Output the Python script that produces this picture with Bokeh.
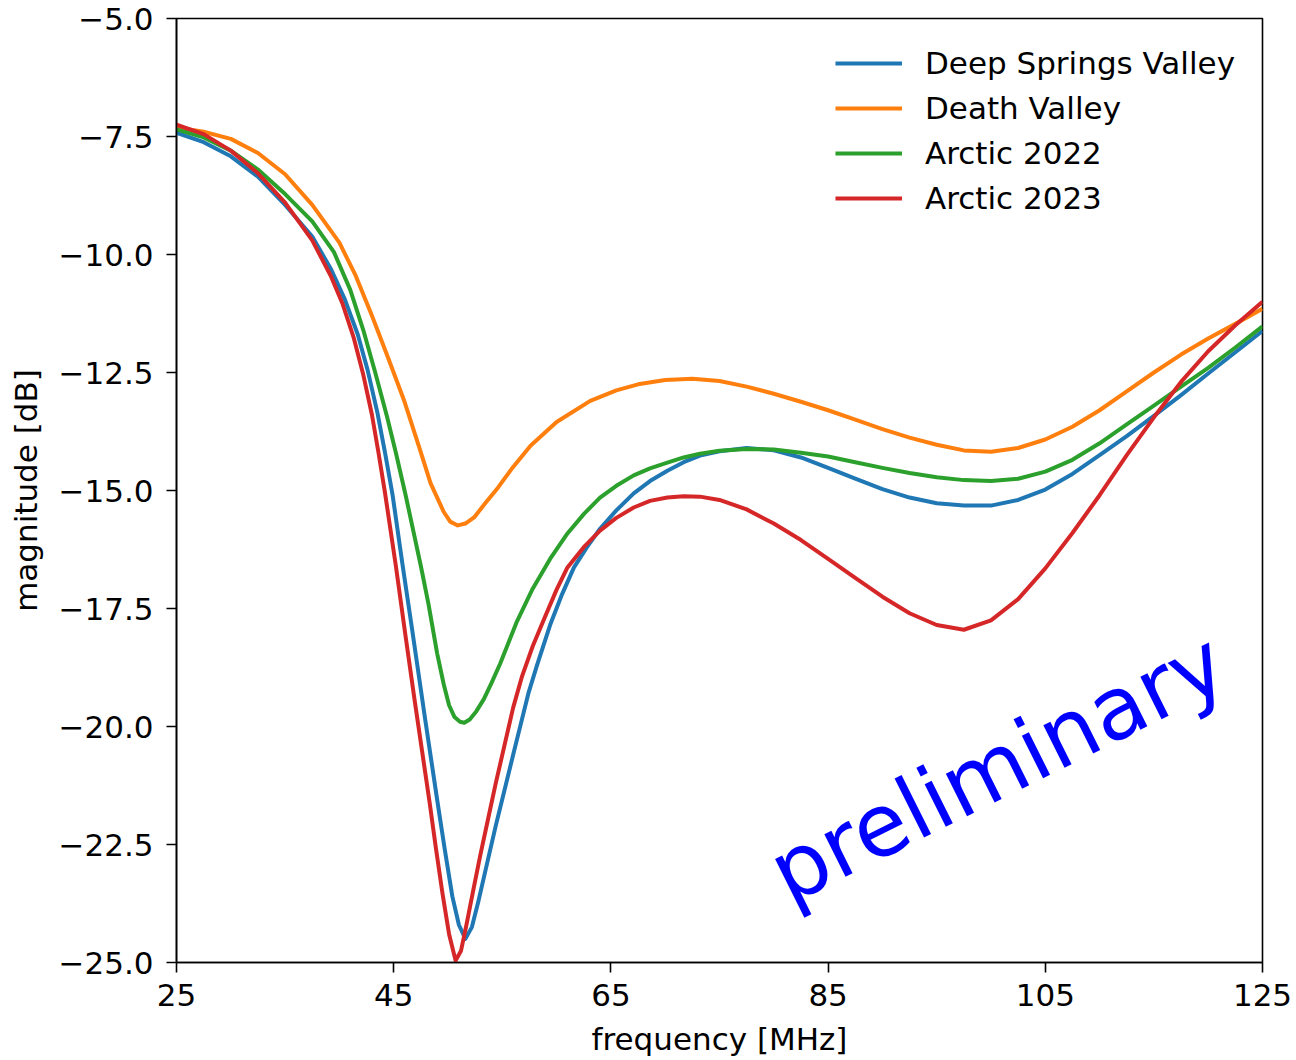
from bokeh.plotting import figure
from bokeh.models import Range1d, FixedTicker, CustomJSTickFormatter, Label, Legend, LegendItem
from bokeh.embed import file_html
from bokeh.resources import INLINE

# ---- data ----
deep_springs_freq = [25, 27.5, 30, 32.5, 35, 37.5, 39.2, 40.5, 41.7, 42.6, 43.5, 44.2, 44.9, 45.8, 46.7, 47.9,
                     49.0, 49.7, 50.4, 51.0, 51.6, 52.2, 52.8, 53.6, 54.4, 55.2, 56.0, 56.7, 57.4, 58.2, 59.4,
                     60.5, 61.6, 62.8, 64.0, 65.5, 67.1, 68.6, 70.2, 71.7, 73.2, 75, 77.5, 80, 82.5, 85, 87.5,
                     90, 92.5, 95, 97.5, 100, 102.5, 105, 107.5, 110, 112.5, 115, 117.5, 120, 122.5, 125]
deep_springs = [-7.42, -7.62, -7.92, -8.35, -8.95, -9.62, -10.3, -10.95, -11.7, -12.45, -13.35, -14.2, -15.1,
                -16.55, -17.95, -19.85, -21.55, -22.6, -23.6, -24.2, -24.5, -24.25, -23.7, -22.9, -22.1,
                -21.35, -20.6, -19.95, -19.3, -18.7, -17.85, -17.2, -16.63, -16.2, -15.81, -15.42, -15.06,
                -14.8, -14.58, -14.4, -14.26, -14.17, -14.1, -14.15, -14.3, -14.52, -14.75, -14.97, -15.15,
                -15.27, -15.32, -15.32, -15.2, -14.98, -14.65, -14.25, -13.85, -13.42, -12.98, -12.52,
                -12.07, -11.62]

death_valley_freq = [25, 27.5, 30, 32.5, 35, 37.5, 40, 41.5, 43, 44.5, 46, 47.3, 48.4, 49.6, 50.2, 50.9, 51.6,
                     52.4, 53.5, 54.6, 56, 57.6, 60, 63.1, 65.5, 67.5, 70, 72.5, 75, 77.5, 80, 82.5, 85, 87.5,
                     90, 92.5, 95, 97.5, 100, 102.5, 105, 107.5, 110, 112.5, 115, 117.5, 120, 122.5, 125]
death_valley = [-7.31, -7.4, -7.55, -7.85, -8.3, -8.95, -9.75, -10.45, -11.3, -12.2, -13.12, -14.05, -14.85,
                -15.45, -15.66, -15.74, -15.7, -15.57, -15.25, -14.94, -14.5, -14.05, -13.55, -13.1, -12.88,
                -12.75, -12.66, -12.63, -12.68, -12.8, -12.95, -13.12, -13.3, -13.5, -13.7, -13.88, -14.03,
                -14.15, -14.18, -14.1, -13.92, -13.65, -13.3, -12.9, -12.5, -12.12, -11.78, -11.47, -11.15]

arctic_2022_freq = [25, 27.5, 30, 32.5, 35, 37.5, 39.5, 41, 42.2, 43.3, 44.4, 45.2, 46.1, 46.8, 47.5, 48.2, 49.0,
                    49.6, 50.1, 50.6, 51.1, 51.5, 52.0, 52.6, 53.3, 54.0, 54.8, 56.3, 57.8, 59.4, 61.0, 62.5,
                    64.0, 65.5, 67.1, 68.6, 70.2, 71.7, 73.2, 75, 77.5, 80, 82.5, 85, 87.5, 90, 92.5, 95, 97.5,
                    100, 102.5, 105, 107.5, 110, 112.5, 115, 117.5, 120, 122.5, 125]
arctic_2022 = [-7.35, -7.52, -7.8, -8.2, -8.72, -9.3, -9.95, -10.75, -11.6, -12.5, -13.45, -14.2, -15.1,
               -15.85, -16.6, -17.4, -18.45, -19.1, -19.55, -19.8, -19.9, -19.92, -19.85, -19.68, -19.42,
               -19.08, -18.67, -17.8, -17.08, -16.45, -15.91, -15.5, -15.15, -14.9, -14.68, -14.53, -14.41,
               -14.3, -14.22, -14.16, -14.12, -14.13, -14.2, -14.28, -14.4, -14.52, -14.63, -14.72, -14.78,
               -14.8, -14.75, -14.6, -14.35, -14.0, -13.6, -13.2, -12.8, -12.4, -11.97, -11.52]

arctic_2023_freq = [25, 27.5, 30, 32.5, 35, 37.5, 39.2, 40.3, 41.3, 42.2, 43.0, 43.6, 44.2, 45.2, 46.1, 46.9,
                    47.6, 48.3, 48.9, 49.5, 50.1, 50.7, 51.2, 51.7, 52.3, 53.0, 53.7, 54.4, 55.2, 56.0, 56.8,
                    57.8, 58.8, 60.0, 61.0, 62.5, 64.0, 65.5, 67.1, 68.6, 70.2, 71.7, 73.2, 75, 77.5, 80, 82.5,
                    85, 87.5, 90, 92.5, 95, 97.5, 100, 102.5, 105, 107.5, 110, 112.5, 115, 117.5, 120, 122.5,
                    125]
arctic_2023 = [-7.25, -7.45, -7.8, -8.28, -8.9, -9.7, -10.45, -11.05, -11.75, -12.55, -13.4, -14.2, -15.05,
               -16.6, -18.1, -19.4, -20.5, -21.6, -22.6, -23.55, -24.4, -24.96, -24.75, -24.2, -23.5, -22.7,
               -21.95, -21.2, -20.4, -19.6, -18.95, -18.3, -17.75, -17.1, -16.63, -16.2, -15.85, -15.58,
               -15.36, -15.22, -15.15, -15.12, -15.13, -15.2, -15.4, -15.7, -16.05, -16.45, -16.85, -17.25,
               -17.6, -17.85, -17.95, -17.75, -17.3, -16.65, -15.9, -15.1, -14.25, -13.45, -12.7, -12.05,
               -11.5, -11.0]

series_names = ["Deep Springs Valley", "Death Valley", "Arctic 2022", "Arctic 2023"]
series_freqs = [deep_springs_freq, death_valley_freq, arctic_2022_freq, arctic_2023_freq]
series_values = [deep_springs, death_valley, arctic_2022, arctic_2023]
colors = ["#1f77b4", "#ff7f0e", "#2ca02c", "#d62728"]

x_ticks = [25, 45, 65, 85, 105, 125]
y_ticks = [-5.0, -7.5, -10.0, -12.5, -15.0, -17.5, -20.0, -22.5, -25.0]

FONT = "DejaVu Sans"
FS = "31px"

p = figure(width=1296, height=1060, output_backend="svg", toolbar_location=None,
           x_range=Range1d(25, 125), y_range=Range1d(-25, -5),
           min_border_left=176, min_border_right=34, min_border_top=18, min_border_bottom=98)
p.xgrid.visible = False
p.ygrid.visible = False
p.outline_line_color = "black"
p.outline_line_width = 1.6
p.outline_line_alpha = 1.0
p.background_fill_color = "white"
p.border_fill_color = "white"

items = []
for name, fx, vals, c in zip(series_names, series_freqs, series_values, colors):
    r = p.line(fx, vals, line_color=c, line_width=4, line_join="round")
    items.append(LegendItem(label=name, renderers=[r]))

legend = Legend(items=items, location="top_right")
legend.label_text_font = FONT
legend.label_text_font_size = FS
legend.label_text_color = "black"
legend.glyph_width = 67
legend.glyph_height = 34
legend.label_standoff = 23
legend.spacing = 9
legend.padding = 0
legend.margin = 27
legend.border_line_alpha = 0
legend.background_fill_alpha = 0
p.add_layout(legend)

p.xaxis.ticker = FixedTicker(ticks=x_ticks)
p.yaxis.ticker = FixedTicker(ticks=y_ticks)
p.xaxis.formatter = CustomJSTickFormatter(code="return tick.toFixed(0);")
p.yaxis.formatter = CustomJSTickFormatter(code="return (tick < 0 ? '\u2212' : '') + Math.abs(tick).toFixed(1);")

for ax in (p.xaxis[0], p.yaxis[0]):
    ax.major_label_text_font = FONT
    ax.major_label_text_font_size = FS
    ax.major_label_text_color = "black"
    ax.axis_label_text_font = FONT
    ax.axis_label_text_font_size = FS
    ax.axis_label_text_font_style = "normal"
    ax.axis_label_text_color = "black"
    ax.axis_line_color = "black"
    ax.axis_line_width = 1.6
    ax.major_tick_line_color = "black"
    ax.major_tick_line_width = 1.6
    ax.major_tick_out = 10
    ax.major_tick_in = 0
    ax.minor_tick_out = 0
    ax.minor_tick_in = 0

p.xaxis.axis_label = "frequency [MHz]"
p.yaxis.axis_label = "magnitude [dB]"
p.xaxis.major_label_standoff = 11
p.yaxis.major_label_standoff = 13
p.xaxis.axis_label_standoff = 12
p.yaxis.axis_label_standoff = 12

watermark = Label(x=100.6, y=-20.87, text="preliminary", angle=26.5, angle_units="deg",
                  text_color="#0000ff", text_font=FONT, text_font_size="87px",
                  text_align="center", text_baseline="middle")
p.add_layout(watermark)

open("out.html", "w").write(file_html(p, INLINE))
